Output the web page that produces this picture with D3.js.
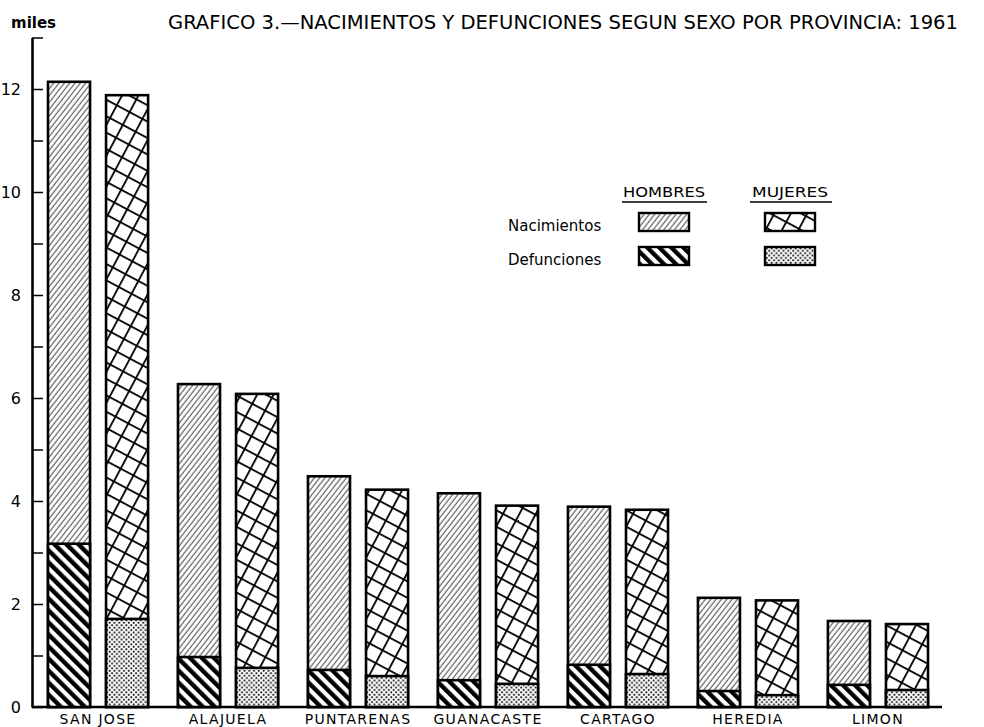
<!DOCTYPE html>
<html>
<head>
<meta charset="utf-8">
<script src="https://cdn.jsdelivr.net/npm/d3@7"></script>
<style>
  body { margin: 0; background: #fff; }
  svg { display: block; }
  text { font-family: "DejaVu Sans", sans-serif; fill: #000; }
</style>
</head>
<body>
<svg id="chart" width="984" height="727"></svg>
<script>
// datos (miles)
const provincias = ["SAN JOSE", "ALAJUELA", "PUNTARENAS", "GUANACASTE", "CARTAGO", "HEREDIA", "LIMON"];
const sexos = ["HOMBRES", "MUJERES"];
const nacHombres = [12.14, 6.27, 4.48, 4.15, 3.89, 2.12, 1.67];
const nacMujeres = [11.88, 6.08, 4.22, 3.91, 3.83, 2.07, 1.61];
const defHombres = [3.17, 0.97, 0.72, 0.52, 0.82, 0.31, 0.43];
const defMujeres = [1.71, 0.76, 0.60, 0.45, 0.64, 0.23, 0.33];
const yTicks = [0, 1, 2, 3, 4, 5, 6, 7, 8, 9, 10, 11, 12, 13];

const svg = d3.select("#chart");

// patrones
const defs = svg.append("defs");

const pHatch = defs.append("pattern")
  .attr("id", "nac-h").attr("patternUnits", "userSpaceOnUse")
  .attr("width", 4.2).attr("height", 4.2)
  .attr("patternTransform", "rotate(38)");
pHatch.append("rect").attr("width", 4.2).attr("height", 4.2).attr("fill", "#fff");
pHatch.append("line").attr("x1", 1).attr("y1", 0).attr("x2", 1).attr("y2", 4.2)
  .attr("stroke", "#222").attr("stroke-width", 0.85);

const pStripe = defs.append("pattern")
  .attr("id", "def-h").attr("patternUnits", "userSpaceOnUse")
  .attr("width", 8.5).attr("height", 8.5)
  .attr("patternTransform", "rotate(-45)");
pStripe.append("rect").attr("width", 8.5).attr("height", 8.5).attr("fill", "#fff");
pStripe.append("rect").attr("width", 4.4).attr("height", 8.5).attr("fill", "#000");

const pCross = defs.append("pattern")
  .attr("id", "nac-m").attr("patternUnits", "userSpaceOnUse")
  .attr("width", 14.5).attr("height", 14.5)
  .attr("patternTransform", "rotate(28)");
pCross.append("rect").attr("width", 14.5).attr("height", 14.5).attr("fill", "#fff");
pCross.append("line").attr("x1", 0).attr("y1", 0.9).attr("x2", 14.5).attr("y2", 0.9)
  .attr("stroke", "#000").attr("stroke-width", 1.8);
pCross.append("line").attr("x1", 0.9).attr("y1", 0).attr("x2", 0.9).attr("y2", 14.5)
  .attr("stroke", "#000").attr("stroke-width", 1.8);

const pDots = defs.append("pattern")
  .attr("id", "def-m").attr("patternUnits", "userSpaceOnUse")
  .attr("width", 4.8).attr("height", 4.8);
pDots.append("rect").attr("width", 4.8).attr("height", 4.8).attr("fill", "#fff");
pDots.append("circle").attr("cx", 1.2).attr("cy", 1.2).attr("r", 1.05).attr("fill", "#000");
pDots.append("circle").attr("cx", 3.6).attr("cy", 3.6).attr("r", 1.05).attr("fill", "#000");

// escalas
const y = d3.scaleLinear().domain([0, 13]).range([707, 37.5]);
const x0 = d3.scaleBand().domain(provincias).range([48, 928]).paddingInner(0.23).paddingOuter(0);
const x1 = d3.scaleBand().domain(sexos).range([0, x0.bandwidth()]).paddingInner(0.276);

// eje y
const yAxis = d3.axisLeft(y)
  .tickValues(yTicks)
  .tickSizeInner(-11)
  .tickSizeOuter(0)
  .tickPadding(11)
  .tickFormat(d => d % 2 === 0 ? d : "");

const gy = svg.append("g").attr("transform", "translate(32,0)").call(yAxis);
gy.select(".domain").attr("stroke", "#000").attr("stroke-width", 2.6);
gy.selectAll(".tick line").attr("stroke", "#000").attr("stroke-width", 1.5);
gy.selectAll(".tick text")
  .style("font-family", "'DejaVu Sans', sans-serif")
  .style("font-size", "16px").attr("fill", "#000");

// linea base
svg.append("line")
  .attr("x1", 32).attr("x2", 942)
  .attr("y1", y(0)).attr("y2", y(0))
  .attr("stroke", "#000").attr("stroke-width", 2.6);

// barras
const filas = provincias.map((p, i) => ({
  prov: p,
  barras: [
    { sexo: "HOMBRES", nac: nacHombres[i], def: defHombres[i], pn: "nac-h", pd: "def-h" },
    { sexo: "MUJERES", nac: nacMujeres[i], def: defMujeres[i], pn: "nac-m", pd: "def-m" }
  ]
}));

const grupo = svg.append("g").selectAll("g")
  .data(filas)
  .join("g")
  .attr("transform", d => `translate(${x0(d.prov)},0)`);

const barra = grupo.selectAll("g")
  .data(d => d.barras)
  .join("g")
  .attr("transform", d => `translate(${x1(d.sexo)},0)`);

barra.append("rect")
  .attr("x", 0).attr("width", x1.bandwidth())
  .attr("y", d => y(d.nac)).attr("height", d => y(0) - y(d.nac))
  .attr("fill", d => `url(#${d.pn})`)
  .attr("stroke", "#000").attr("stroke-width", 2.6);

barra.append("rect")
  .attr("x", 0).attr("width", x1.bandwidth())
  .attr("y", d => y(d.def)).attr("height", d => y(0) - y(d.def))
  .attr("fill", d => `url(#${d.pd})`)
  .attr("stroke", "#000").attr("stroke-width", 2.6);

// nombres de provincia
svg.append("g").selectAll("text")
  .data(provincias)
  .join("text")
  .attr("x", d => x0(d) + x0.bandwidth() / 2)
  .attr("y", 724)
  .attr("text-anchor", "middle")
  .style("font-size", "14px")
  .style("letter-spacing", "1.3px")
  .text(d => d);

// titulo
svg.append("text")
  .attr("x", 168).attr("y", 29)
  .attr("textLength", 790).attr("lengthAdjust", "spacingAndGlyphs")
  .style("font-family", "'DejaVu Sans Condensed', 'DejaVu Sans', sans-serif")
  .style("font-size", "19px")
  .text("GRAFICO 3.\u2014NACIMIENTOS Y DEFUNCIONES SEGUN SEXO POR PROVINCIA: 1961");

svg.append("text")
  .attr("x", 11).attr("y", 28)
  .style("font-size", "15px").style("font-weight", "bold")
  .text("miles");

// leyenda
const legX = { HOMBRES: 664, MUJERES: 790 };
const legRows = [
  { label: "Nacimientos", y: 213, pats: ["nac-h", "nac-m"] },
  { label: "Defunciones", y: 247, pats: ["def-h", "def-m"] }
];

sexos.forEach(s => {
  svg.append("text")
    .attr("x", legX[s]).attr("y", 197)
    .attr("text-anchor", "middle")
    .attr("textLength", s === "HOMBRES" ? 82 : 76).attr("lengthAdjust", "spacingAndGlyphs")
    .style("font-size", "14px")
    .text(s);
  svg.append("line")
    .attr("x1", legX[s] - (s === "HOMBRES" ? 42 : 40)).attr("x2", legX[s] + (s === "HOMBRES" ? 43 : 42))
    .attr("y1", 202).attr("y2", 202)
    .attr("stroke", "#000").attr("stroke-width", 1.3);
});

legRows.forEach(r => {
  svg.append("text")
    .attr("x", 508).attr("y", r.y + 18)
    .style("font-size", "15px")
    .text(r.label);
  sexos.forEach((s, j) => {
    svg.append("rect")
      .attr("x", legX[s] - 25).attr("y", r.y)
      .attr("width", 50).attr("height", 18)
      .attr("fill", `url(#${r.pats[j]})`)
      .attr("stroke", "#000").attr("stroke-width", 2.4);
  });
});
</script>
</body>
</html>
